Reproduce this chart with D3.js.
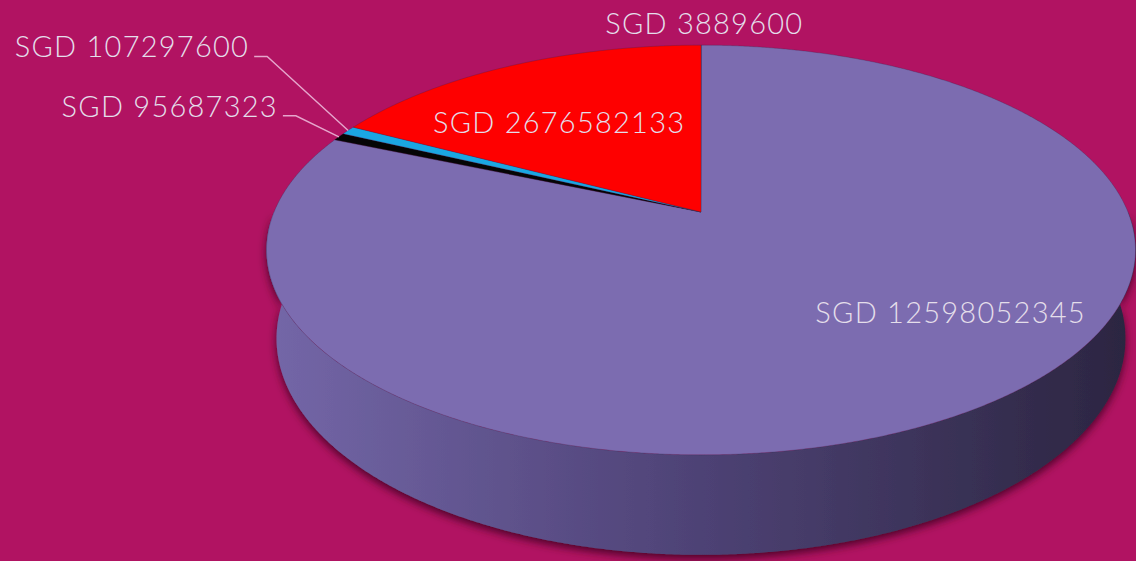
<!DOCTYPE html>
<html>
<head>
<meta charset="utf-8">
<script src="https://cdn.jsdelivr.net/npm/d3@7"></script>
<style>
  html, body { margin: 0; padding: 0; background: #B11362; overflow: hidden; }
  svg { display: block; }
</style>
</head>
<body>
<div id="container"></div>
<script>
/* DATA */
const labels = ["SGD 3889600", "SGD 12598052345", "SGD 95687323", "SGD 107297600", "SGD 2676582133"];
const values = [3889600, 12598052345, 95687323, 107297600, 2676582133];
const colors = ["#7C6CB0", "#7C6CB0", "#050505", "#1BA6E2", "#FE0000"];

/* CONSTANTS AND GLOBALS */
const width = 1136,
  height = 561;

// simple perspective camera looking down on a flat cylinder of radius 1
const cam = { cx: 701, cy: 212, phi: 27.6 * Math.PI / 180, dist: 4.778, f: 2040, thick: 0.236 };
const sinP = Math.sin(cam.phi), cosP = Math.cos(cam.phi);

function project(theta, r, y) {
  const X = r * Math.sin(theta), Z = -r * Math.cos(theta);
  const d = cam.dist - y * sinP - Z * cosP;
  return [cam.cx + cam.f * X / d, cam.cy - cam.f * (y * cosP - Z * sinP) / d];
}

function arcPoints(a0, a1, y) {
  const n = Math.max(2, Math.ceil(Math.abs(a1 - a0) / 0.005));
  return d3.range(n + 1).map(i => project(a0 + (a1 - a0) * i / n, 1, y));
}

const line = d3.line().curve(d3.curveLinear);

const svg = d3.select("#container")
  .append("svg")
  .attr("width", width)
  .attr("height", height);

const defs = svg.append("defs");

const left = project(-Math.PI / 2 - 0.19, 1, 0)[0],
  right = project(Math.PI / 2 + 0.19, 1, 0)[0];

const grad = defs.append("linearGradient")
  .attr("id", "sideGrad")
  .attr("gradientUnits", "userSpaceOnUse")
  .attr("x1", left).attr("x2", right)
  .attr("y1", 0).attr("y2", 0);
grad.append("stop").attr("offset", 0).attr("stop-color", "#7467A8");
grad.append("stop").attr("offset", 0.45).attr("stop-color", "#51457A");
grad.append("stop").attr("offset", 1).attr("stop-color", "#2B2540");

const shadow = defs.append("filter")
  .attr("id", "shadow")
  .attr("x", "-10%").attr("y", "-10%")
  .attr("width", "120%").attr("height", "130%");
shadow.append("feDropShadow")
  .attr("dx", 0).attr("dy", 4)
  .attr("stdDeviation", 4)
  .attr("flood-color", "#3D0020")
  .attr("flood-opacity", 0.85);

// PIE LAYOUT
const pie = d3.pie().sort(null).startAngle(0).endAngle(2 * Math.PI);
const slices = pie(values).map((s, i) => ({ ...s, label: labels[i], color: colors[i] }));

// SIDE WALL (only the front is ever seen)
const a0 = Math.PI / 2, a1 = 3 * Math.PI / 2;
const sidePts = arcPoints(a0, a1, 0).concat(arcPoints(a1, a0, -cam.thick));
svg.append("path")
  .attr("d", line(sidePts) + "Z")
  .attr("fill", "url(#sideGrad)")
  .attr("filter", "url(#shadow)");

// TOP FACES
svg.selectAll("path.top")
  .data(slices)
  .join("path")
  .attr("class", "top")
  .attr("d", d => line([project(0, 0, 0)].concat(arcPoints(d.startAngle, d.endAngle, 0))) + "Z")
  .attr("fill", d => d.color)
  .attr("stroke", "#2a2040")
  .attr("stroke-opacity", 0.35)
  .attr("stroke-width", 0.7)
  .attr("stroke-linejoin", "round");

// LABELS
const mid = d => (d.startAngle + d.endAngle) / 2;
const labelLayout = [
  { type: "top" },
  { type: "inside", r: 0.6, dx: 94, dy: 2 },
  { type: "leader", dx: -43, dy: -21 },
  { type: "leader", dx: -81, dy: -74 },
  { type: "inside", r: 0.6, dx: -21, dy: 14 }
];

const textStyle = sel => sel
  .attr("fill", "#E4DEEA")
  .style("font-family", "Lato, 'Open Sans', sans-serif")
  .style("font-weight", 300)
  .style("font-size", "29px")
  .style("letter-spacing", "1.25px");

slices.forEach((d, i) => {
  const lay = labelLayout[i];
  if (lay.type === "top") {
    const [x, y] = project(mid(d), 1, 0);
    svg.append("text")
      .attr("x", x + 3).attr("y", y - 11)
      .attr("text-anchor", "middle")
      .call(textStyle)
      .text(d.label);
  } else if (lay.type === "inside") {
    const [x, y] = project(mid(d), lay.r, 0);
    svg.append("text")
      .attr("x", x + lay.dx).attr("y", y + lay.dy)
      .attr("text-anchor", "middle")
      .call(textStyle)
      .text(d.label);
  } else {
    const [ex, ey] = project(mid(d), 1, 0);
    const elbow = [ex + lay.dx, ey + lay.dy];
    svg.append("path")
      .attr("d", line([[ex, ey], elbow, [elbow[0] - 13, elbow[1]]]))
      .attr("fill", "none")
      .attr("stroke", "#E6A6CC")
      .attr("stroke-width", 1.4);
    svg.append("text")
      .attr("x", elbow[0] - 18).attr("y", elbow[1] + 1)
      .attr("text-anchor", "end")
      .call(textStyle)
      .text(d.label);
  }
});
</script>
</body>
</html>
